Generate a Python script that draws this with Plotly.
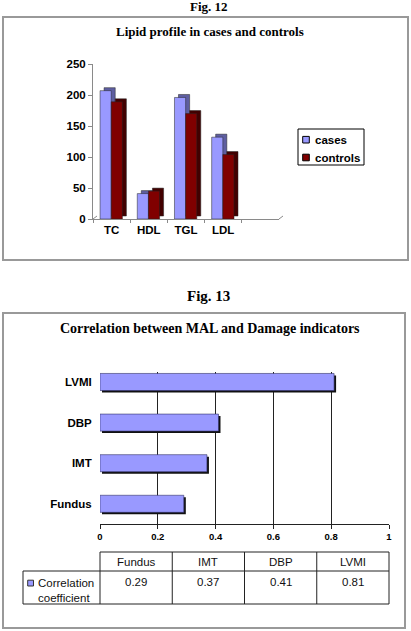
import plotly.graph_objects as go

# ---------------- data ----------------
lipid_categories = ["TC", "HDL", "TGL", "LDL"]
cases_values = [207, 41, 196, 132]
controls_values = [189, 45, 170, 104]
series_names = ["cases", "controls"]

corr_categories = ["Fundus", "IMT", "DBP", "LVMI"]
corr_values = [0.29, 0.37, 0.41, 0.81]
corr_series_name = "Correlation<br>coefficient"

lipid_ticks = [0, 50, 100, 150, 200, 250]
corr_ticks = [0, 0.2, 0.4, 0.6, 0.8, 1]

# ---------------- geometry helpers ----------------
W, H = 411, 631
def px(x):
    return x / W
def py(y):
    return 1 - y / H

SANS = "Liberation Sans, Arial, sans-serif"
SERIF = "Liberation Serif, Times New Roman, serif"
CASES_C = "#9999FF"
CASES_D = "#5E5EA0"
CTRL_C = "#800000"
CTRL_D = "#420000"

fig = go.Figure()

# ---------- top chart (3D-like grouped bars) ----------
cat_px = (279 - 93) / 5.0          # pixel width of one category on front plane
val_px = (219 - 64) / 250.0        # pixels per unit value
dx = 4 / cat_px                    # depth offset (right)
dy = 3 / val_px                    # depth offset (up)
bw = 0.3
offs = [-0.31, -0.01]
fronts = [CASES_C, CTRL_C]
depths = [CASES_D, CTRL_D]
vals = [cases_values, controls_values]

for i in range(2):
    fig.add_trace(go.Bar(
        x=lipid_categories, y=vals[i], base=dy, width=bw, offset=offs[i] + dx,
        marker=dict(color=depths[i], line=dict(color="#222", width=0.5)),
        xaxis="x3", yaxis="y3", showlegend=False, hoverinfo="skip"))
    fig.add_trace(go.Bar(
        x=lipid_categories, y=vals[i], width=bw, offset=offs[i], name=series_names[i],
        marker=dict(color=fronts[i], line=dict(color="#222", width=0.5)),
        xaxis="x3", yaxis="y3", showlegend=False))

# ---------- bottom chart (horizontal bars with shadow) ----------
x2_dom = [px(100), px(389)]
x2_rng = [0, 1]
cat2_px = 40.6
hb = 0.42
fig.add_trace(go.Bar(
    y=corr_categories, x=corr_values, orientation="h", base=2 / 289, width=hb,
    offset=-hb / 2 - 2 / cat2_px, marker=dict(color="#111", line=dict(width=0)),
    xaxis="x2", yaxis="y2", showlegend=False, hoverinfo="skip"))
fig.add_trace(go.Bar(
    y=corr_categories, x=corr_values, orientation="h", width=hb, offset=-hb / 2,
    name="Correlation coefficient",
    marker=dict(color=CASES_C, line=dict(color="#333366", width=0.6)),
    xaxis="x2", yaxis="y2", showlegend=False))

lbl_bold = dict(family=SANS, size=11.5, color="black", weight="bold")

fig.update_layout(
    width=W, height=H, autosize=False,
    margin=dict(l=0, r=0, t=0, b=0, pad=0, autoexpand=False),
    paper_bgcolor="white", plot_bgcolor="rgba(0,0,0,0)",
    barmode="overlay", showlegend=False,
    # back wall of top chart
    xaxis=dict(domain=[px(97), px(283)], range=[0, 1], showgrid=False, zeroline=False,
               showticklabels=False, ticks="", showline=True, mirror=True,
               linecolor="#8a8a8a", linewidth=1, anchor="y", automargin=False),
    yaxis=dict(domain=[py(216), py(62)], range=[0, 250], tickvals=lipid_ticks,
               showgrid=True, gridcolor="#444", gridwidth=1, zeroline=False,
               showticklabels=False, ticks="", showline=True, mirror=True,
               linecolor="#8a8a8a", linewidth=1, anchor="x", automargin=False),
    # front plane of top chart
    xaxis3=dict(domain=[px(93), px(279)], type="category",
                categoryorder="array", categoryarray=lipid_categories + [" "],
                range=[-0.5, 4.5], showgrid=False, zeroline=False,
                showline=True, linecolor="#8a8a8a", linewidth=1,
                ticks="outside", tickson="boundaries", ticklen=3, tickcolor="#8a8a8a",
                tickfont=lbl_bold, anchor="y3", automargin=False),
    yaxis3=dict(domain=[py(219), py(64)], range=[0, 250], tickvals=lipid_ticks,
                showgrid=False, zeroline=False, showline=True, linecolor="#8a8a8a",
                linewidth=1, ticks="outside", ticklen=4, tickcolor="#8a8a8a",
                tickfont=lbl_bold, anchor="x3", automargin=False),
    # bottom chart
    xaxis2=dict(domain=x2_dom, range=x2_rng, tickvals=corr_ticks,
                showgrid=True, gridcolor="#222", gridwidth=1, zeroline=False,
                showline=True, linecolor="#222", linewidth=1, ticks="outside",
                ticklen=4, tickcolor="#222",
                tickfont=dict(family=SANS, size=9.5, color="black", weight="bold"),
                anchor="y2", automargin=False),
    yaxis2=dict(domain=[py(524), py(372)], type="category", categoryorder="array",
                categoryarray=corr_categories, range=[-0.4975, 3.246],
                showgrid=False, zeroline=False, showline=False,
                ticks="outside", ticklen=5, tickcolor="rgba(0,0,0,0)",
                tickfont=lbl_bold, anchor="x2", automargin=False),
)

def x2p(v):
    return x2_dom[0] + (v - x2_rng[0]) / (x2_rng[1] - x2_rng[0]) * (x2_dom[1] - x2_dom[0])

shapes = []
ann = []
BOX = dict(color="#999999", width=2)
# outer boxes
shapes.append(dict(type="rect", xref="paper", yref="paper", x0=px(3), x1=px(408),
                   y0=py(260), y1=py(17), line=BOX))
shapes.append(dict(type="rect", xref="paper", yref="paper", x0=px(3), x1=px(405),
                   y0=py(628), y1=py(313), line=BOX))
# floor sides of 3D top chart
shapes.append(dict(type="line", xref="paper", yref="paper", x0=px(93), y0=py(219),
                   x1=px(97), y1=py(216), line=dict(color="#8a8a8a", width=1)))
shapes.append(dict(type="line", xref="paper", yref="paper", x0=px(279), y0=py(219),
                   x1=px(283), y1=py(216), line=dict(color="#8a8a8a", width=1)))

# titles
ann.append(dict(text="<b>Fig. 12</b>", x=px(209), y=py(6.5), xref="paper", yref="paper",
                showarrow=False, xanchor="center", yanchor="middle",
                font=dict(family=SERIF, size=13, color="black")))
ann.append(dict(text="<b>Lipid profile in cases and controls</b>", x=px(210), y=py(31.5),
                xref="paper", yref="paper", showarrow=False, xanchor="center",
                yanchor="middle", font=dict(family=SERIF, size=13, color="black")))
ann.append(dict(text="<b>Fig. 13</b>", x=px(208), y=py(296), xref="paper", yref="paper",
                showarrow=False, xanchor="center", yanchor="middle",
                font=dict(family=SERIF, size=15, color="black")))
ann.append(dict(text="<b>Correlation between MAL and Damage indicators</b>", x=px(210),
                y=py(328.5), xref="paper", yref="paper", showarrow=False,
                xanchor="center", yanchor="middle",
                font=dict(family=SERIF, size=14, color="black")))

# manual legend for the top chart
shapes.append(dict(type="rect", xref="paper", yref="paper", x0=px(298), x1=px(364),
                   y0=py(165), y1=py(129), line=dict(color="black", width=1),
                   fillcolor="white"))
leg_y = [139.7, 157.5]
for i in range(2):
    shapes.append(dict(type="rect", xref="paper", yref="paper",
                       x0=px(302.7), x1=px(309.3), y0=py(leg_y[i] + 3.3),
                       y1=py(leg_y[i] - 3.3), line=dict(color="black", width=1),
                       fillcolor=fronts[i]))
    ann.append(dict(text=series_names[i], x=px(312.5), y=py(leg_y[i]), xref="paper",
                    yref="paper", showarrow=False, xanchor="left", yanchor="middle",
                    font=lbl_bold))

# data table under bottom chart
T_TOP, T_MID, T_BOT, T_LEFT = 552, 571, 604, 23
LC = dict(color="#222", width=1)
n = len(corr_categories)
col_edges = [x2p(i / n) for i in range(n + 1)]
shapes.append(dict(type="line", xref="paper", yref="paper", x0=col_edges[0],
                   x1=col_edges[-1], y0=py(T_TOP), y1=py(T_TOP), line=LC))
for yy in (T_MID, T_BOT):
    shapes.append(dict(type="line", xref="paper", yref="paper", x0=px(T_LEFT),
                       x1=col_edges[-1], y0=py(yy), y1=py(yy), line=LC))
for xe in col_edges:
    shapes.append(dict(type="line", xref="paper", yref="paper", x0=xe, x1=xe,
                       y0=py(T_BOT), y1=py(T_TOP), line=LC))
shapes.append(dict(type="line", xref="paper", yref="paper", x0=px(T_LEFT), x1=px(T_LEFT),
                   y0=py(T_BOT), y1=py(T_MID), line=LC))
tfont = dict(family=SANS, size=11.5, color="#111")
for i in range(n):
    xc = (col_edges[i] + col_edges[i + 1]) / 2
    ann.append(dict(text=corr_categories[i], x=xc, y=py(561.5), xref="paper",
                    yref="paper", showarrow=False, xanchor="center", yanchor="middle",
                    font=tfont))
    ann.append(dict(text=f"{corr_values[i]:.2f}", x=xc, y=py(582), xref="paper",
                    yref="paper", showarrow=False, xanchor="center", yanchor="middle",
                    font=tfont))
shapes.append(dict(type="rect", xref="paper", yref="paper", x0=px(27.7), x1=px(33.5),
                   y0=py(586), y1=py(580.2), line=dict(color="#333", width=1),
                   fillcolor=CASES_C))
ann.append(dict(text=corr_series_name, x=px(36), y=py(590), xref="paper", yref="paper",
                showarrow=False, xanchor="left", yanchor="middle", align="left",
                font=tfont))

fig.update_layout(shapes=shapes, annotations=ann)
fig.write_html("out.html", post_script="document.body.style.margin='0';")
